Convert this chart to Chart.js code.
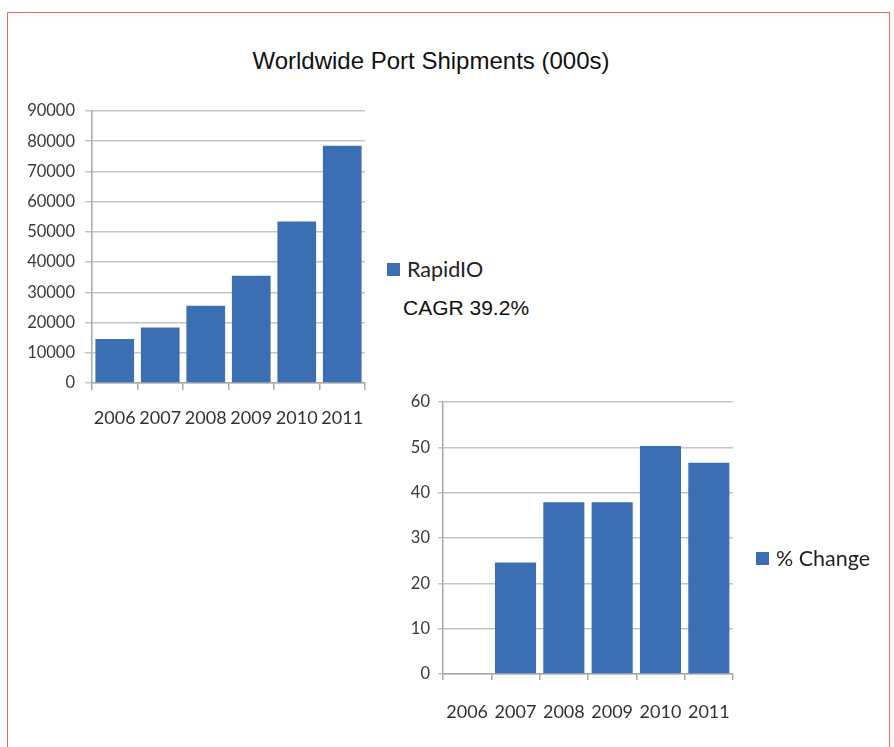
<!DOCTYPE html>
<html>
<head>
<meta charset="utf-8">
<script src="https://cdn.jsdelivr.net/npm/chart.js@4.4.1/dist/chart.umd.min.js"></script>
<style>
  body{margin:0;background:#fff;width:894px;height:747px;overflow:hidden;position:relative;}
  #frame{position:absolute;left:7px;top:12px;width:881px;height:760px;border:1px solid #e06c6c;}
  #title{position:absolute;left:0;width:862px;top:47px;text-align:center;font:24px "Liberation Sans",Arial,sans-serif;color:#111;}
  .wrap{position:absolute;}
  .legend{position:absolute;font:21.5px Lato,sans-serif;color:#222;display:flex;align-items:center;}
  .legend i{display:inline-block;width:13px;height:13px;background:#3c6eb4;margin-right:7px;}
  #cagr{position:absolute;left:403px;top:296px;font:21px "Liberation Sans",Arial,sans-serif;color:#111;}
</style>
</head>
<body>
<div id="frame"></div>
<div id="title">Worldwide Port Shipments (000s)</div>
<div class="wrap" style="left:0;top:100px;width:380px;height:340px;"><canvas id="shipChart"></canvas></div>
<div class="wrap" style="left:380px;top:390px;width:380px;height:350px;"><canvas id="changeChart"></canvas></div>
<div class="legend" id="legend1" style="left:387px;top:256px;"></div>
<div id="cagr">CAGR 39.2%</div>
<div class="legend" id="legend2" style="left:756px;top:545px;"></div>
<script>
const years = ['2006','2007','2008','2009','2010','2011'];
const shipments = [14600, 18400, 25600, 35500, 53400, 78500];
const pctChange = [null, 24.6, 37.9, 37.9, 50.3, 46.6];
const shipLabel = 'RapidIO';
const changeLabel = '% Change';

const barColor = '#3c6eb4';
const gridColor = '#c4c4c4';
const axisColor = '#a8a8a8';

document.getElementById('legend1').innerHTML = '<i></i>' + shipLabel;
document.getElementById('legend2').innerHTML = '<i></i>' + changeLabel;

function makeChart(canvas, data, label, max, step, yWidth, xHeight, pad, yTick, yPad, xTick, xPad) {
  return new Chart(canvas, {
    type: 'bar',
    data: {
      labels: years,
      datasets: [{
        label: label,
        data: data,
        backgroundColor: barColor,
        borderWidth: 0,
        barPercentage: 0.85,
        categoryPercentage: 1.0
      }]
    },
    options: {
      responsive: true,
      maintainAspectRatio: false,
      animation: false,
      layout: { padding: pad },
      plugins: { legend: { display: false }, tooltip: { enabled: false } },
      scales: {
        x: {
          grid: { drawOnChartArea: false, drawTicks: true, tickLength: xTick, color: axisColor, lineWidth: 1.5 },
          border: { color: axisColor, width: 1.5 },
          ticks: { color: '#333', font: { family: 'Lato, sans-serif', size: 18 }, padding: xPad, maxRotation: 0, autoSkip: false },
          afterFit: (s) => { s.height = xHeight; s.paddingLeft = 0; s.paddingRight = 0; }
        },
        y: {
          min: 0,
          max: max,
          grid: { color: gridColor, lineWidth: 1.5, tickLength: yTick },
          border: { color: axisColor, width: 1.5 },
          ticks: {
            stepSize: step, color: '#3a3a3a', padding: yPad,
            font: { family: 'Lato, sans-serif', size: 16.5 },
            callback: (v) => String(v)
          },
          afterFit: (s) => { s.width = yWidth; s.paddingTop = 0; s.paddingBottom = 0; }
        }
      }
    }
  });
}

makeChart(document.getElementById('shipChart'), shipments, shipLabel, 90000, 10000, 92, 57,
  { top: 11, right: 15, bottom: 0, left: 0 }, 7, 10, 7, 17);
makeChart(document.getElementById('changeChart'), pctChange, changeLabel, 60, 10, 63, 66,
  { top: 12, right: 27, bottom: 0, left: 0 }, 5, 8, 6, 21);
</script>
</body>
</html>
